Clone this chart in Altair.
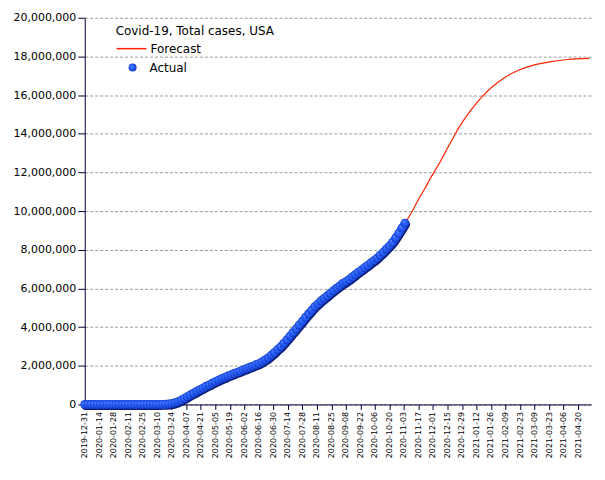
import altair as alt
import pandas as pd

# ---------------- data ----------------
actual_start = "2019-12-31"
actual_step_days = 3
actual_cases = [
    0, 0, 0, 0, 0, 0, 0, 0, 0, 0,
    0, 0, 0, 0, 0, 0, 0, 15, 15, 15,
    70, 100, 250, 550, 1300, 3000, 7800, 19000, 46000, 86000,
    143000, 214000, 311000, 400000, 500000, 580000, 672000, 760000, 840000, 940000,
    1010000, 1100000, 1180000, 1260000, 1330000, 1390000, 1470000, 1530000, 1600000, 1660000,
    1720000, 1790000, 1850000, 1920000, 1980000, 2050000, 2110000, 2200000, 2300000, 2410000,
    2550000, 2680000, 2840000, 2980000, 3160000, 3340000, 3530000, 3720000, 3910000, 4110000,
    4300000, 4500000, 4690000, 4870000, 5060000, 5200000, 5360000, 5490000, 5620000, 5750000,
    5880000, 6010000, 6130000, 6260000, 6350000, 6460000, 6590000, 6710000, 6840000, 6950000,
    7080000, 7190000, 7320000, 7440000, 7570000, 7720000, 7870000, 8040000, 8200000, 8380000,
    8610000, 8850000, 9120000, 9380000,
]

forecast_dates = [
    "2020-11-04", "2020-11-10", "2020-11-17", "2020-11-24", "2020-11-28",
    "2020-12-03", "2020-12-08", "2020-12-13", "2020-12-18", "2020-12-22",
    "2020-12-30", "2021-01-07", "2021-01-17", "2021-01-27", "2021-02-08",
    "2021-02-21", "2021-03-09", "2021-03-25", "2021-04-10", "2021-05-01",
]
forecast_cases = [
    9380000, 9900000, 10600000, 11250000, 11650000,
    12100000, 12550000, 13060000, 13550000, 13950000,
    14650000, 15250000, 15900000, 16420000, 16900000,
    17270000, 17560000, 17730000, 17840000, 17900000,
]

x_tick_labels = [
    "2019-12-31", "2020-01-14", "2020-01-28", "2020-02-11", "2020-02-25",
    "2020-03-10", "2020-03-24", "2020-04-07", "2020-04-21", "2020-05-05",
    "2020-05-19", "2020-06-02", "2020-06-16", "2020-06-30", "2020-07-14",
    "2020-07-28", "2020-08-11", "2020-08-25", "2020-09-08", "2020-09-22",
    "2020-10-06", "2020-10-20", "2020-11-03", "2020-11-17", "2020-12-01",
    "2020-12-15", "2020-12-29", "2021-01-12", "2021-01-26", "2021-02-09",
    "2021-02-23", "2021-03-09", "2021-03-23", "2021-04-06", "2021-04-20",
]
x_domain = ["2019-12-31T00:00:00", "2021-05-02T12:00:00"]
y_tick_values = [0, 2000000, 4000000, 6000000, 8000000, 10000000,
                 12000000, 14000000, 16000000, 18000000, 20000000]

legend_title = "Covid-19, Total cases, USA"


def ms(s):
    return int(pd.Timestamp(s, tz="UTC").timestamp() * 1000)


actual_dates = pd.date_range(actual_start, periods=len(actual_cases),
                             freq=f"{actual_step_days}D")
actual_df = pd.DataFrame({
    "date": actual_dates.strftime("%Y-%m-%d"),
    "cases": actual_cases,
    "series": "Actual",
})
forecast_df = pd.DataFrame({
    "date": forecast_dates,
    "cases": forecast_cases,
    "series": "Forecast",
})

NAVY = "#000033"
FONT = "DejaVu Sans"

x_enc = alt.X(
    "date:T",
    scale=alt.Scale(type="utc", domain=[ms(d) for d in x_domain]),
    axis=alt.Axis(
        values=[ms(d) for d in x_tick_labels],
        labelExpr="utcFormat(datum.value, '%Y-%m-%d')",
        labelAngle=-90, labelFont=FONT, labelFontSize=8, labelColor="black",
        labelFlush=False, labelOverlap=False, labelPadding=2,
        tickSize=5, tickColor=NAVY, domainColor=NAVY, grid=False, title=None,
    ),
)
y_enc = alt.Y(
    "cases:Q",
    scale=alt.Scale(domain=[0, 20000000], nice=False),
    axis=alt.Axis(
        values=y_tick_values, format=",d", title=None,
        labelFont=FONT, labelFontSize=11, labelColor="black", labelPadding=2,
        tickSize=7, tickColor=NAVY, domainColor=NAVY,
        grid=True, gridDash=[3, 2], gridColor="#9a9a9a",
    ),
)

sphere = alt.RadialGradient(
    gradient="radial",
    x1=0.35, y1=0.3, r1=0,
    x2=0.5, y2=0.5, r2=0.55,
    stops=[
        alt.GradientStop(color="#7fa8ff", offset=0),
        alt.GradientStop(color="#2d64ff", offset=0.3),
        alt.GradientStop(color="#1f55f0", offset=0.72),
        alt.GradientStop(color="#0a1c80", offset=1),
    ],
)

forecast_line = alt.Chart(forecast_df).mark_line(
    strokeWidth=1.2, color="#ff2200", interpolate="monotone"
).encode(
    x=x_enc, y=y_enc,
    color=alt.Color(
        "series:N",
        scale=alt.Scale(domain=["Forecast"], range=["#ff2200"]),
        legend=alt.Legend(
            title=legend_title, orient="none", legendX=31, legendY=8,
            titleFont=FONT, titleFontSize=12, titleFontWeight="normal",
            titleColor="black", titlePadding=-5,
            labelFont=FONT, labelFontSize=12, labelColor="black",
            symbolType="stroke", symbolSize=900, symbolStrokeWidth=1.5,
            labelOffset=3, padding=0,
        ),
    ),
)

actual_base = alt.Chart(actual_df).encode(x=x_enc, y=y_enc)

band_dark = actual_base.mark_line(
    color="#0a1a78", strokeWidth=8, xOffset=1, yOffset=1.5,
    strokeCap="round", strokeJoin="round"
)
band_blue = actual_base.mark_line(
    color="#2660ff", strokeWidth=8, strokeCap="round", strokeJoin="round"
)

actual_points = actual_base.mark_point(
    filled=True, fill=sphere, size=80, opacity=1, strokeWidth=0
).encode(
    shape=alt.Shape(
        "series:N",
        scale=alt.Scale(domain=["Actual"], range=["circle"]),
        legend=alt.Legend(
            title=None, orient="none", legendX=42, legendY=44,
            labelFont=FONT, labelFontSize=12, labelColor="black",
            symbolSize=64, symbolStrokeWidth=0, symbolFillColor="#1f55f0",
            labelOffset=11, padding=0,
        ),
    ),
)

chart = alt.layer(forecast_line, band_dark, band_blue, actual_points).properties(
    width=508, height=388,
    autosize=alt.AutoSizeParams(type="none"),
    padding={"left": 77, "top": 9, "right": 6, "bottom": 70},
).configure_view(stroke=None)

chart.save("out.html", embed_options={"renderer": "svg", "actions": False})
